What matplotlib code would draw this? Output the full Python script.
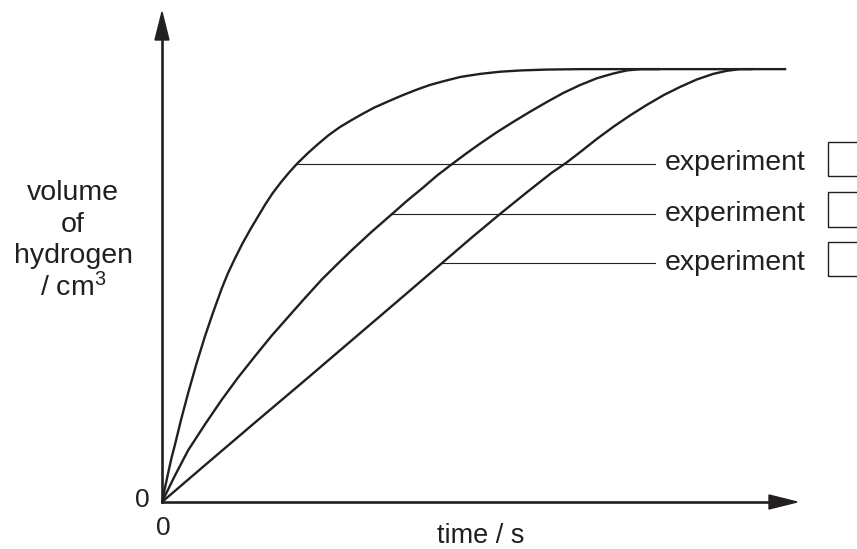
import matplotlib
matplotlib.use("Agg")
import matplotlib.pyplot as plt
from matplotlib.patches import Polygon, Rectangle

plt.rcParams['font.family'] = ['Liberation Sans', 'DejaVu Sans']
plt.rcParams['mathtext.default'] = 'regular'

INK = '#231f20'

#---Curve data (time, volume of hydrogen)
time_a = [0, 0.5, 1.0, 1.5, 2.05, 3.0, 4.14, 5.4, 6.77, 8.0, 9.40, 10.4, 11.5, 12.7,
          14.0, 15.1, 16.2, 17.4, 18.7, 20.0, 21.3, 22.9, 24.5, 26.2, 28.0, 29.7,
          31.5, 33.4, 35.4, 37.6, 40.0, 42.1, 44.3, 47.0, 50.1, 53.2, 56.5, 60.6,
          66.0, 72.0, 98.3]
vol_a = [0, 3.5, 6.9, 10.2, 13.3, 19.0, 25.3, 31.8, 38.3, 43.6, 49.3, 52.9, 56.3,
         59.8, 63.2, 65.9, 68.6, 71.3, 73.8, 76.1, 78.2, 80.5, 82.6, 84.7, 86.6,
         88.1, 89.6, 91.1, 92.4, 93.8, 95.2, 96.3, 97.2, 98.2, 98.9, 99.4, 99.7,
         99.9, 100, 100, 100]

time_b = [0, 2.0, 4.14, 6.8, 9.40, 12.0, 14.6, 17.2, 19.9, 22.5, 25.1, 27.5, 29.9,
          33.0, 36.2, 38.6, 41.0, 43.3, 45.7, 47.9, 50.1, 52.7, 55.3, 58.0, 60.6,
          63.2, 65.8, 68.5, 71.1, 73.2, 75.3, 78.4]
vol_b = [0, 6.0, 12.0, 18.0, 23.6, 28.8, 33.6, 38.3, 42.8, 47.1, 51.3, 54.8, 58.2,
         62.4, 66.5, 69.6, 72.5, 75.4, 78.1, 80.5, 82.8, 85.4, 87.8, 90.2, 92.4,
         94.5, 96.3, 97.9, 99.0, 99.7, 100, 100]

time_c = [0, 7.0, 14.6, 22.5, 30.4, 38.3, 44.1, 48.7, 53.2, 57.5, 61.4, 63.7, 66.0,
          68.5, 71.1, 73.7, 76.3, 79.0, 81.6, 84.2, 86.8, 88.9, 91.0, 93.0]
vol_c = [0, 8.8, 18.3, 28.1, 38.0, 47.9, 55.2, 61.0, 66.5, 71.6, 76.1, 78.4, 81.0,
         83.9, 86.7, 89.3, 91.7, 94.0, 95.9, 97.6, 98.9, 99.6, 100, 100]

#---Leader lines to the labels
label_levels = [78.2, 66.6, 55.2]
label_starts = [21.3, 36.2, 44.1]
labels = ['experiment', 'experiment', 'experiment']

#---Figure
fig = plt.figure(figsize=(8.57, 5.49), dpi=100)
ax = fig.add_axes([162 / 857, 47 / 549, 635 / 857, 490 / 549])
ax.set_xlim(0, 100)
ax.set_ylim(0, 113.2)
ax.axis('off')

for t, v in ((time_a, vol_a), (time_b, vol_b), (time_c, vol_c)):
    ax.plot(t, v, '-', color=INK, lw=1.7, solid_capstyle='butt',
            solid_joinstyle='round', clip_on=False)

for lev, start, lab in zip(label_levels, label_starts, labels):
    ax.plot([start, 77.6], [lev, lev], '-', color=INK, lw=0.8)
    ax.text(79.2, lev - 1.6, lab, fontsize=20.5, color=INK, va='baseline', ha='left')
    ax.add_patch(Rectangle((104.9, lev - 3.0), 30, 7.94, fill=False,
                           edgecolor=INK, lw=1.0, clip_on=False))

#---Axes with arrow heads
ax.plot([0, 0.96], [0, 0], color=INK, lw=1.9, transform=ax.transAxes, clip_on=False)
ax.plot([0, 0], [0, 0.95], color=INK, lw=1.9, transform=ax.transAxes, clip_on=False)
ax.add_patch(Polygon([[1, 0], [1 - 28 / 635, 7 / 490], [1 - 28 / 635, -7 / 490]],
                     closed=True, color=INK, transform=ax.transAxes, clip_on=False))
ax.add_patch(Polygon([[0, 1], [7 / 635, 1 - 28 / 490], [-7 / 635, 1 - 28 / 490]],
                     closed=True, color=INK, transform=ax.transAxes, clip_on=False))

#---Axis labels
ax.text(-3.1, -1.1, '0', fontsize=19, color=INK, ha='center', va='baseline')
ax.text(0.15, -7.6, '0', fontsize=19, color=INK, ha='center', va='baseline')
ax.text(50.2, -9.5, 'time / s', fontsize=19.5, color=INK, ha='center', va='baseline')
for txt, v in (('volume', 69.7), ('of', 62.4), ('hydrogen', 55.2), ('/ cm$^3$', 47.6)):
    ax.text(-14.0, v, txt, fontsize=20.5, color=INK, ha='center', va='baseline')

plt.savefig('out.png', dpi=100)
